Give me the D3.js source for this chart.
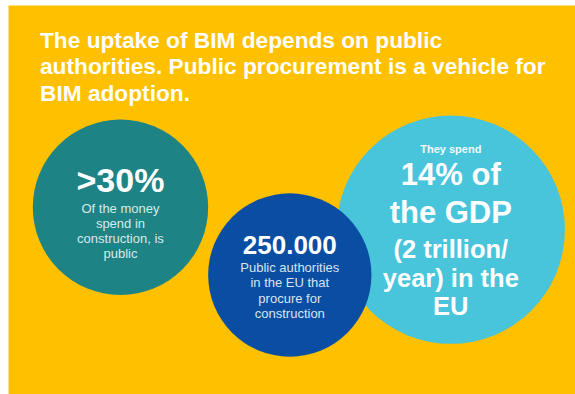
<!DOCTYPE html>
<html>
<head>
<meta charset="utf-8">
<script src="https://cdn.jsdelivr.net/npm/d3@7/dist/d3.min.js"></script>
<style>
  html, body { margin: 0; padding: 0; background: #ffffff; }
  svg { display: block; }
  text { font-family: "Liberation Sans", Arial, sans-serif; }
</style>
</head>
<body>
<div id="chart"></div>
<script>
// Headline text
const titleLines = [
  "The uptake of BIM depends on public",
  "authorities. Public procurement is a vehicle for",
  "BIM adoption."
];

// The three facts, one per bubble
const factKeys = ["share", "authorities", "spend"];
const factKickers = ["", "", "They spend"];
const factHeadlines = [[">30%"], ["250.000"], ["14% of", "the GDP"]];
const factBodies = [
  ["Of the money", "spend in", "construction, is", "public"],
  ["Public authorities", "in the EU that", "procure for", "construction"],
  ["(2 trillion/", "year) in the", "EU"]
];

const W = 575, H = 394;

// Bubble placement on a 0..100 layout grid
const layout = {
  share:       { gx: 20.95, gy: 52.6, gr: 15.25 },
  spend:       { gx: 78.4,  gy: 58.3, gr: 19.85 },
  authorities: { gx: 50.4,  gy: 69.8, gr: 14.2 }
};
const styles = {
  share:       { fill: "#1e8385", head: 34, headLead: 0,  body: 13,   bodyLead: 15,   headY: 192, bodyY: 213, bodyFill: "#d6ebeb", bodyWeight: "normal" },
  authorities: { fill: "#0a4ea3", head: 26, headLead: 0,  body: 13,   bodyLead: 15.3, headY: 254, bodyY: 272, bodyFill: "#d9e3f2", bodyWeight: "normal" },
  spend:       { fill: "#48c4db", head: 31, headLead: 38, body: 25.5, bodyLead: 28.5, headY: 185, bodyY: 258, bodyFill: "#ffffff", bodyWeight: "bold", kickY: 152.7 }
};

const gx = d3.scaleLinear().domain([0, 100]).range([0, W]);
const gy = d3.scaleLinear().domain([0, 100]).range([0, H]);
const gr = d3.scaleLinear().domain([0, 100]).range([0, W]);

const svg = d3.select("#chart").append("svg")
  .attr("width", W).attr("height", H);

// Background panel
svg.append("rect")
  .attr("x", 8.5).attr("y", 5.5)
  .attr("width", W - 8.5).attr("height", H - 5.5)
  .attr("fill", "#ffc000");

// Title
svg.append("g").selectAll("text")
  .data(titleLines)
  .join("text")
  .attr("x", 40)
  .attr("y", (d, i) => 47.5 + i * 26.5)
  .attr("fill", "#ffffff")
  .attr("font-weight", "bold")
  .attr("font-size", 22.7)
  .text(d => d);

const facts = factKeys.map((k, i) => ({
  key: k, kicker: factKickers[i], head: factHeadlines[i], body: factBodies[i],
  cx: gx(layout[k].gx), cy: gy(layout[k].gy), r: gr(layout[k].gr), s: styles[k]
}));

// Drawing order: share, spend, then authorities on top
const order = ["share", "spend", "authorities"];
const bubbles = svg.append("g").selectAll("g")
  .data(order.map(k => facts.find(f => f.key === k)))
  .join("g");

bubbles.append("circle")
  .attr("cx", d => d.cx).attr("cy", d => d.cy).attr("r", d => d.r)
  .attr("fill", d => d.s.fill);

bubbles.filter(d => d.kicker).append("text")
  .attr("x", d => d.cx).attr("y", d => d.s.kickY)
  .attr("text-anchor", "middle")
  .attr("font-weight", "bold").attr("font-size", 11)
  .attr("fill", "#f2fbfd")
  .text(d => d.kicker);

bubbles.each(function(d) {
  const g = d3.select(this);
  g.selectAll("text.head")
    .data(d.head)
    .join("text").attr("class", "head")
    .attr("x", d.cx)
    .attr("y", (t, i) => d.s.headY + i * d.s.headLead)
    .attr("text-anchor", "middle")
    .attr("font-weight", "bold")
    .attr("font-size", d.s.head)
    .attr("fill", "#ffffff")
    .text(t => t);
  g.selectAll("text.body")
    .data(d.body)
    .join("text").attr("class", "body")
    .attr("x", d.cx)
    .attr("y", (t, i) => d.s.bodyY + i * d.s.bodyLead)
    .attr("text-anchor", "middle")
    .attr("font-weight", d.s.bodyWeight)
    .attr("font-size", d.s.body)
    .attr("fill", d.s.bodyFill)
    .text(t => t);
});
</script>
</body>
</html>
